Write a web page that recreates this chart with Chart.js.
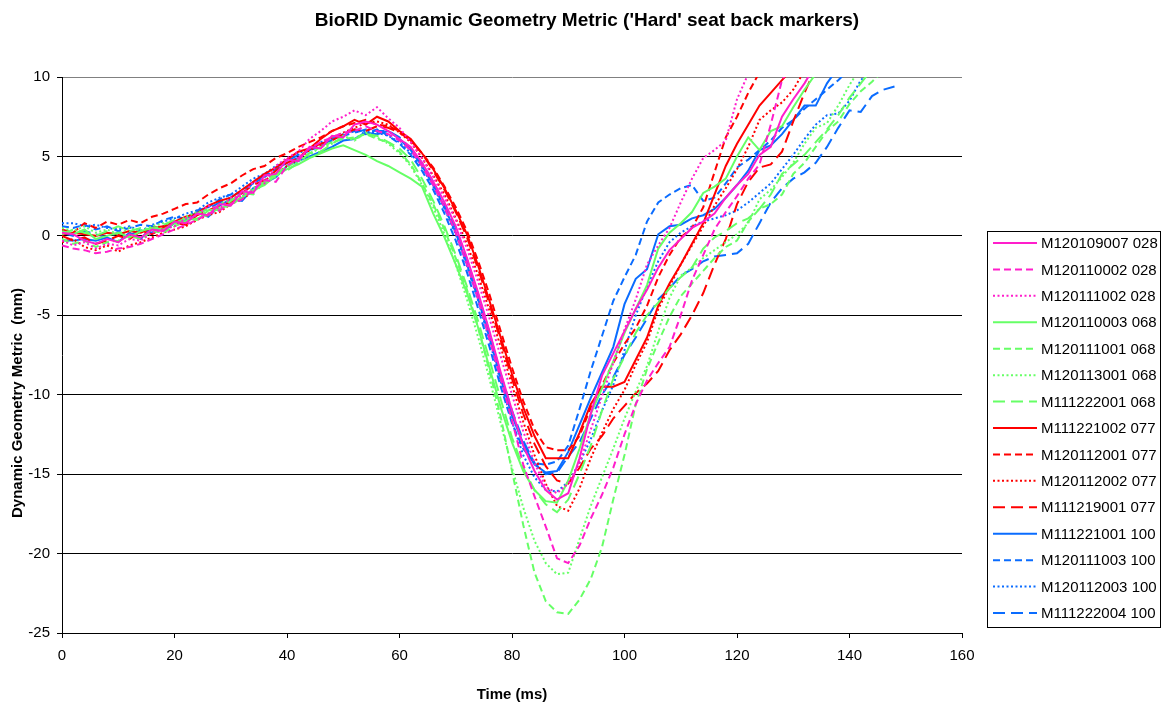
<!DOCTYPE html>
<html>
<head>
<meta charset="utf-8">
<script src="https://cdn.jsdelivr.net/npm/chart.js@4"></script>
<style>
  html, body { margin: 0; padding: 0; background: #ffffff; }
  #wrap { width: 1161px; height: 705px; position: relative; }
</style>
</head>
<body>
<div id="wrap"><canvas id="chart" width="1161" height="705"></canvas></div>
<script>
// Sample times (ms), 2 ms apart
const timeMs = [0,2,4,6,8,10,12,14,16,18,20,22,24,26,28,30,32,34,36,38,40,42,44,46,48,50,52,54,56,58,60,62,64,66,68,70,72,74,76,78,80,82,84,86,88,90,92,94,96,98,100,102,104,106,108,110,112,114,116,118,120,122,124,126,128,130,132,134,136,138,140,142,144,146,148];

// Axis ticks
const xTicks = { min: 0, max: 160, step: 20 };
const yTicks = { min: -25, max: 10, step: 5 };

// Test series labels (test number + seat code)
const seriesLabels = [
  'M120109007 028', 'M120110002 028', 'M120111002 028',
  'M120110003 068', 'M120111001 068', 'M120113001 068', 'M111222001 068',
  'M111221002 077', 'M120112001 077', 'M120112002 077', 'M111219001 077',
  'M111221001 100', 'M120111003 100', 'M120112003 100', 'M111222004 100'
];

// Dynamic geometry metric (mm) per test, one value per sample time
const m120109007 = [0.2,0.1,-0.3,-0.5,-0.2,-0.4,0.1,-0.1,0.4,0.3,0.9,0.8,1.4,1.3,2.0,1.9,2.8,2.7,3.8,3.9,4.8,4.7,5.6,5.5,6.3,6.2,7.0,7.2,7.0,6.6,6.1,5.6,4.6,3.4,2.1,0.6,-1.4,-3.6,-6.0,-8.6,-11.0,-13.2,-14.8,-16.0,-16.6,-16.2,-14.0,-11.2,-8.8,-7.4,-6.0,-4.6,-3.4,-2.0,-0.9,-0.2,0.5,0.9,1.4,2.4,3.2,3.9,5.1,5.6,7.5,8.6,9.6,10.8];
const m120110002 = [-0.6,-0.8,-0.9,-1.1,-1.0,-0.8,-0.7,-0.5,-0.2,0.1,0.4,0.7,1.0,1.4,1.6,2.0,2.3,2.9,3.5,3.4,4.4,4.9,5.5,5.9,6.2,6.5,6.6,6.9,6.6,6.4,6.0,5.4,4.4,3.2,1.8,0.2,-1.8,-4.0,-6.5,-9.0,-11.6,-14.4,-16.4,-18.3,-20.3,-20.6,-19.5,-17.8,-16.3,-14.6,-12.5,-10.6,-9.1,-8.0,-7.0,-5.0,-2.8,-1.2,0.4,1.5,2.5,3.6,4.5,7.0,9.8,11.0];
const m120111002 = [-0.3,-0.6,-0.4,-0.8,-0.5,-0.6,-0.2,-0.3,0.2,0.4,0.6,1.1,1.3,1.9,1.7,2.4,2.5,3.4,3.3,4.4,4.9,5.3,6.1,6.6,7.2,7.5,7.9,7.6,8.1,7.4,6.8,5.9,4.9,3.7,2.4,1.0,-0.8,-2.9,-5.2,-7.6,-10.0,-12.3,-14.3,-15.8,-16.2,-15.6,-14.3,-12.2,-10.1,-8.0,-5.9,-4.0,-1.8,-0.6,0.5,2.1,3.6,4.9,5.4,6.0,8.6,10.2];
const m120110003 = [0.3,0.1,0.4,-0.2,0.0,0.2,-0.1,0.3,0.5,0.4,0.8,1.1,1.0,1.6,1.7,2.0,2.4,2.9,3.2,3.8,4.2,4.5,4.9,5.2,5.5,5.7,5.4,5.1,4.7,4.4,4.0,3.6,3.1,1.4,-0.1,-1.8,-3.6,-5.8,-8.3,-10.8,-13.0,-14.8,-16.0,-16.7,-16.8,-15.4,-13.4,-11.2,-9.6,-7.9,-6.1,-4.6,-3.1,-0.8,0.2,0.8,1.5,2.7,3.1,3.6,5.0,6.2,5.4,6.6,6.9,8.1,9.2,10.2];
const m120111001 = [-0.2,-0.5,-0.3,-0.7,-0.4,-0.3,0.0,-0.2,0.3,0.2,0.6,0.9,1.1,1.3,1.8,1.9,2.5,2.8,3.3,4.0,4.3,4.8,5.2,5.6,5.9,6.1,6.2,6.4,6.1,5.9,5.3,4.5,3.3,2.0,0.4,-1.4,-3.4,-5.8,-8.5,-11.4,-14.8,-18.2,-21.2,-23.0,-23.7,-23.8,-22.9,-21.6,-19.6,-16.6,-13.8,-10.6,-8.4,-6.7,-5.1,-3.8,-3.0,-2.2,-1.4,-0.7,-0.3,0.9,1.7,2.0,2.6,3.9,4.6,5.6,6.6,7.2,8.3,9.1,9.7,10.4];
const m120113001 = [0.5,0.3,0.6,0.2,0.4,0.1,0.5,0.3,0.6,0.8,0.7,1.2,1.5,1.4,2.0,2.3,2.4,3.0,3.4,3.7,4.4,4.7,5.1,5.6,5.8,6.3,6.0,6.5,6.2,5.8,5.2,4.4,3.2,1.8,0.1,-1.8,-4.0,-6.4,-9.0,-11.8,-14.6,-17.1,-19.2,-20.6,-21.3,-21.2,-19.1,-17.0,-15.2,-13.4,-11.5,-9.8,-8.2,-6.0,-3.9,-2.5,-2.0,-1.4,-0.9,-0.4,0.1,0.8,2.3,2.9,3.7,4.6,5.8,6.8,7.1,8.2,9.5,10.6];
const m111222001 = [0.1,0.4,0.2,0.0,0.3,0.6,0.3,0.5,0.4,0.7,1.0,0.9,1.4,1.7,1.6,2.2,2.7,2.6,3.4,3.9,4.1,4.6,5.2,5.3,5.8,6.2,6.1,6.4,6.3,5.9,5.5,4.8,3.6,2.2,0.6,-1.2,-3.2,-5.4,-7.8,-10.3,-12.7,-14.6,-16.0,-16.9,-17.4,-16.6,-15.0,-13.2,-11.0,-9.0,-7.6,-6.1,-5.0,-4.2,-3.3,-2.6,-2.0,-0.8,-0.1,0.3,0.8,1.1,1.7,2.6,3.9,4.5,5.1,5.9,6.7,7.6,8.7,9.6,10.5];
const m111221002 = [0.1,0.2,0.1,0.0,0.2,0.1,0.3,0.2,0.5,0.6,0.9,1.2,1.4,1.9,2.2,2.4,2.9,3.4,3.9,4.3,4.8,5.3,5.5,6.1,6.6,6.9,7.3,7.0,7.5,7.2,6.6,6.1,5.2,4.2,3.0,1.6,0.1,-1.9,-4.1,-6.4,-8.7,-10.8,-12.6,-14.0,-14.0,-14.0,-12.4,-10.6,-9.5,-9.5,-9.2,-7.8,-6.4,-4.4,-3.0,-1.8,-0.5,0.8,2.6,4.4,5.8,7.0,8.2,9.0,9.8,10.6];
const m120112001 = [0.4,0.2,0.8,0.5,0.9,0.7,1.0,0.8,1.2,1.4,1.7,2.0,2.1,2.6,3.0,3.3,3.8,4.2,4.4,4.9,5.2,5.6,5.9,6.2,6.6,6.9,7.1,7.3,7.0,6.9,6.6,6.0,5.2,4.3,3.1,1.8,0.3,-1.6,-3.7,-6.0,-8.3,-10.4,-12.2,-13.3,-13.5,-13.5,-12.6,-10.8,-9.4,-8.0,-6.8,-5.8,-4.4,-2.6,-1.2,-0.1,0.5,1.8,4.0,6.2,7.5,9.0,10.3];
const m120112002 = [-0.4,-0.2,-0.7,-0.9,-0.6,-1.0,-0.6,-0.4,-0.1,0.2,0.4,0.6,1.0,1.3,1.5,2.0,2.3,2.8,3.5,3.9,4.4,4.8,5.4,5.7,6.2,6.5,6.8,7.1,7.2,7.0,6.5,5.9,4.9,3.8,2.6,1.1,-0.5,-2.5,-4.7,-7.0,-9.4,-11.7,-13.8,-15.6,-17.0,-17.3,-15.9,-14.0,-12.4,-10.9,-9.7,-8.1,-6.7,-4.6,-3.2,-1.8,-0.6,0.6,1.9,3.0,4.2,5.6,7.3,7.9,8.4,9.2,10.4];
const m111219001 = [0.0,-0.3,-0.1,-0.5,-0.3,0.0,-0.2,0.3,0.1,0.5,0.8,0.7,1.3,1.6,1.9,2.1,2.7,3.2,3.5,4.1,4.6,4.9,5.5,5.8,6.0,6.4,6.7,6.6,6.9,6.8,6.5,6.0,5.2,4.1,2.9,1.5,-0.1,-2.1,-4.3,-6.6,-9.0,-11.2,-13.1,-14.5,-15.4,-15.6,-14.6,-13.4,-12.6,-11.5,-10.7,-9.9,-9.3,-8.5,-7.2,-6.2,-5.0,-3.6,-1.8,-0.2,2.0,3.4,4.3,4.5,5.3,7.2,9.0,10.6];
const m111221001 = [-0.3,-0.3,-0.2,-0.3,-0.1,-0.4,0.2,-0.2,0.6,0.3,0.8,0.9,1.5,1.2,1.9,2.3,2.2,3.0,3.3,3.7,4.4,4.7,5.0,5.3,5.6,6.0,6.1,6.5,6.4,6.6,6.1,5.4,4.4,3.2,1.8,0.2,-1.8,-4.0,-6.4,-9.0,-11.3,-13.1,-14.4,-14.9,-14.8,-13.6,-11.9,-10.2,-8.6,-7.0,-4.3,-2.7,-2.1,0.1,0.6,0.7,1.1,1.3,1.7,2.4,3.2,4.1,5.4,5.7,6.4,7.3,8.2,8.2,9.6,10.6];
const m120111003 = [0.6,0.5,0.7,0.4,0.6,0.3,0.5,0.7,0.6,1.0,1.2,1.1,1.6,1.8,2.3,2.6,2.7,3.3,3.7,4.2,4.6,4.9,5.4,5.6,6.1,6.3,6.6,6.4,6.7,6.3,5.8,5.1,4.1,2.9,1.4,-0.3,-2.3,-4.6,-7.0,-9.5,-11.8,-13.4,-14.3,-14.4,-14.2,-13.2,-10.9,-8.5,-6.3,-4.1,-2.6,-1.2,0.9,2.1,2.6,3.0,3.2,2.2,2.4,3.3,4.3,4.8,5.4,6.0,6.8,7.3,8.0,8.6,9.2,9.8,10.5];
const m120112003 = [0.8,0.8,0.6,0.7,0.5,0.4,0.6,0.3,0.7,0.9,1.1,1.4,1.6,2.1,2.4,2.6,3.1,3.6,3.9,4.4,4.8,5.2,5.5,5.9,6.2,6.4,6.7,6.6,6.5,6.3,5.9,5.2,4.3,3.1,1.7,0.1,-1.9,-4.1,-6.6,-9.2,-11.7,-13.8,-15.2,-16.0,-16.1,-15.5,-14.3,-12.8,-11.0,-9.4,-7.2,-5.0,-3.2,-1.6,-0.4,0.2,0.6,0.9,1.1,1.3,1.6,2.1,2.7,3.3,4.2,5.1,6.1,7.0,7.6,7.7,8.5,9.8,10.4];
const m111222004 = [0.2,0.0,0.3,0.1,-0.1,0.2,0.0,0.4,0.2,0.6,0.9,1.0,1.4,1.7,2.1,2.4,2.9,3.3,3.8,4.3,4.7,5.1,5.4,5.8,6.0,6.3,6.5,6.7,6.6,6.6,6.2,5.5,4.6,3.4,2.0,0.5,-1.5,-3.7,-6.1,-8.7,-11.0,-12.9,-14.3,-15.0,-14.9,-13.9,-13.0,-11.5,-10.0,-8.9,-7.5,-6.4,-5.2,-4.0,-3.3,-2.5,-2.1,-1.6,-1.3,-1.2,-1.1,-0.5,0.8,2.1,3.0,3.6,4.0,4.6,5.6,6.8,7.9,7.8,8.8,9.2,9.4];

const seriesValues = [
  m120109007, m120110002, m120111002,
  m120110003, m120111001, m120113001, m111222001,
  m111221002, m120112001, m120112002, m111219001,
  m111221001, m120111003, m120112003, m111222004
];

// Line styles: colour per seat group, dash pattern per test within the group
const MAGENTA = '#ff1ecb';
const GREEN = '#66ff66';
const RED = '#ff0000';
const BLUE = '#0a6cff';
const SOLID = [];
const DASH = [7, 4];
const DOT = [2, 2.5];
const LONGDASH = [12, 6];
const seriesColors = [MAGENTA, MAGENTA, MAGENTA, GREEN, GREEN, GREEN, GREEN, RED, RED, RED, RED, BLUE, BLUE, BLUE, BLUE];
const seriesDashes = [SOLID, DASH, DOT, SOLID, DASH, DOT, LONGDASH, SOLID, DASH, DOT, LONGDASH, SOLID, DASH, DOT, LONGDASH];

const FONT = "'Liberation Sans', Arial, sans-serif";

const datasets = seriesLabels.map((label, i) => ({
  label,
  data: seriesValues[i].map((v, j) => ({ x: timeMs[j], y: v })),
  borderColor: seriesColors[i],
  backgroundColor: seriesColors[i],
  borderWidth: 2,
  borderDash: seriesDashes[i],
  pointRadius: 0,
  tension: 0,
  fill: false
}));

// Titles and boxed legend drawn on top of the chart
const decorations = {
  id: 'decorations',
  afterDraw(chart) {
    const ctx = chart.ctx;
    const area = chart.chartArea;
    ctx.save();
    ctx.fillStyle = '#000';

    ctx.font = 'bold 19px ' + FONT;
    ctx.textAlign = 'center';
    ctx.textBaseline = 'middle';
    ctx.fillText("BioRID Dynamic Geometry Metric ('Hard' seat back markers)", 587, 21);

    ctx.font = 'bold 15px ' + FONT;
    ctx.fillText('Time (ms)', (area.left + area.right) / 2, 695);

    ctx.save();
    ctx.translate(18, 403);
    ctx.rotate(-Math.PI / 2);
    ctx.fillText('Dynamic Geometry Metric  (mm)', 0, 0);
    ctx.restore();

    // legend box
    const bx = 987.5, by = 231.5, bw = 173, bh = 396;
    ctx.strokeStyle = '#000';
    ctx.lineWidth = 1;
    ctx.strokeRect(bx, by, bw, bh);
    ctx.font = '15px ' + FONT;
    ctx.textAlign = 'left';
    chart.data.datasets.forEach((ds, i) => {
      const y = 243 + i * 26.43;
      ctx.save();
      ctx.strokeStyle = ds.borderColor;
      ctx.lineWidth = 2;
      ctx.setLineDash(ds.borderDash);
      ctx.beginPath();
      ctx.moveTo(993, y);
      ctx.lineTo(1037, y);
      ctx.stroke();
      ctx.restore();
      ctx.fillStyle = '#000';
      ctx.fillText(ds.label, 1041, y + 1);
    });
    ctx.restore();
  }
};

new Chart(document.getElementById('chart'), {
  type: 'line',
  data: { datasets },
  options: {
    responsive: false,
    animation: false,
    events: [],
    layout: { padding: { top: 77, right: 199, bottom: 0, left: 0 } },
    plugins: { legend: { display: false }, title: { display: false }, tooltip: { enabled: false } },
    scales: {
      x: {
        type: 'linear',
        min: xTicks.min, max: xTicks.max,
        ticks: { stepSize: xTicks.step, color: '#000', font: { family: FONT, size: 15 }, padding: 9, maxRotation: 0 },
        grid: { drawOnChartArea: false, drawTicks: true, tickLength: 5, tickColor: '#000' },
        border: { color: '#000', width: 1 },
        afterFit(scale) { scale.height = 72; }
      },
      y: {
        type: 'linear',
        min: yTicks.min, max: yTicks.max,
        ticks: { stepSize: yTicks.step, color: '#000', font: { family: FONT, size: 15 }, padding: 7 },
        grid: {
          color: (c) => (c.tick && c.tick.value === yTicks.max ? '#808080' : '#000'),
          lineWidth: 1,
          drawTicks: true, tickLength: 5, tickColor: '#000'
        },
        border: { color: '#000', width: 1 },
        afterFit(scale) { scale.width = 62; }
      }
    }
  },
  plugins: [decorations]
});
</script>
</body>
</html>
